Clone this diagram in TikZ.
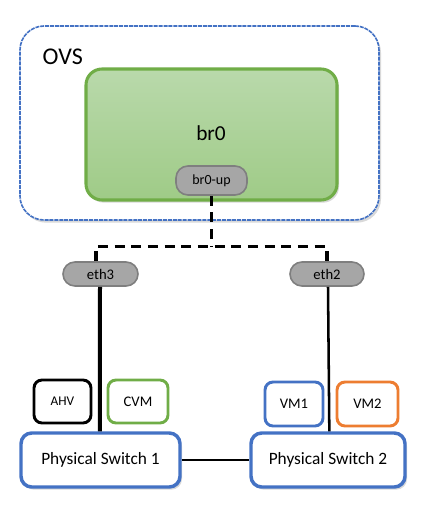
\documentclass[tikz,border=0pt]{standalone}
\usepackage{fontspec}
\setmainfont{Carlito}
\usetikzlibrary{shadows}
\definecolor{ovsblue}{HTML}{4472C4}
\definecolor{brgreen}{HTML}{70AD47}
\definecolor{gtop}{HTML}{B9D9AB}
\definecolor{gbot}{HTML}{9FCB87}
\definecolor{portfill}{HTML}{A6A6A6}
\definecolor{portdraw}{HTML}{7F7F7F}
\definecolor{vmorange}{HTML}{ED7D31}
\begin{document}
\begin{tikzpicture}[x=0.75pt,y=-0.75pt,
  shad/.style={drop shadow={shadow xshift=1.5pt,shadow yshift=-2pt,opacity=0.25,fill=black!60}},
  port/.style={draw=portdraw,fill=portfill,line width=1.2pt,rounded corners=9pt,minimum height=18pt,inner sep=0pt},
  vmbox/.style={draw,line width=2.2pt,rounded corners=6pt,fill=white,inner sep=0pt,font=\fontsize{11}{13}\selectfont},
  switchbox/.style={draw=ovsblue,line width=2.6pt,rounded corners=8pt,fill=white,inner sep=0pt,font=\fontsize{13}{15}\selectfont,shad},
  dashlink/.style={line width=2.4pt,dash pattern=on 7.5pt off 5pt}
]
\useasboundingbox (0,0) rectangle (423,509);
% OVS
\node[draw=ovsblue,dash pattern=on 3pt off 0.7pt,line width=1.2pt,rounded corners=18pt,fill=white,minimum width=359pt*0.75,minimum height=194pt*0.75,shad] (ovs) at (199.5,123) {};
\node[anchor=west,font=\fontsize{18}{20}\selectfont] (ovst) at (38,57) {OVS};
% br0
\node[draw=brgreen,line width=2.3pt,rounded corners=12pt,top color=gtop,bottom color=gbot,minimum width=251pt*0.75,minimum height=131pt*0.75,shad] (br0) at (211.5,134.5) {};
\node[font=\fontsize{16}{18}\selectfont] (br0t) at (211,133) {br0};
\node[port,minimum width=71pt*0.75,minimum height=29pt*0.75,font=\fontsize{10.5}{12}\selectfont] (brup) at (211.5,180.5) {br0-up};
% ports
\node[port,minimum width=75pt*0.75,minimum height=24pt*0.75,font=\fontsize{11}{13}\selectfont] (eth3) at (100.5,274) {eth3};
\node[port,minimum width=74pt*0.75,minimum height=24pt*0.75,font=\fontsize{11}{13}\selectfont] (eth2) at (327,274) {eth2};
% dashed links
\coordinate (mid) at (211.5,246.5);
\coordinate (lft) at (96,246.5);
\coordinate (rgt) at (327,246.5);
\draw[dashlink] (brup.south) -- (mid);
\draw[dashlink] (lft |- eth3.north) -- (lft) -- (rgt) -- (eth2.north);
% switches
\node[switchbox,minimum width=159pt*0.75,minimum height=54pt*0.75] (sw1) at (100.5,460) {Physical Switch 1};
\node[switchbox,minimum width=154pt*0.75,minimum height=54pt*0.75] (sw2) at (328,460) {Physical Switch 2};
% VMs
\node[vmbox,draw=black,minimum width=57pt*0.75,minimum height=43pt*0.75,font=\fontsize{10}{12}\selectfont] (ahv) at (62.5,401.5) {AHV};
\node[vmbox,draw=brgreen,minimum width=60pt*0.75,minimum height=43pt*0.75] (cvm) at (138,401.5) {CVM};
\node[vmbox,draw=ovsblue,minimum width=58pt*0.75,minimum height=44pt*0.75] (vm1) at (294,404) {VM1};
\node[vmbox,draw=vmorange,minimum width=61pt*0.75,minimum height=44pt*0.75] (vm2) at (367.5,404) {VM2};
% links
\draw[line width=3pt] (eth3.south -| lft) ++(4,0) -- ([xshift=-0.5pt]sw1.north);
\draw[line width=1.9pt] (eth2.south) ++(1,0) -- ([xshift=1pt]sw2.north);
\draw[line width=1.2pt] (sw1.east) -- (sw2.west);
\end{tikzpicture}
\end{document}
